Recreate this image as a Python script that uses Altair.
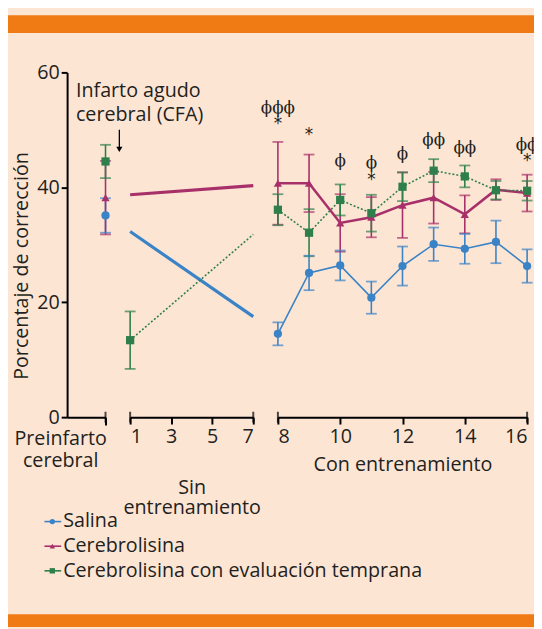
import altair as alt
import pandas as pd

# ---------------- data ----------------
series = ["Salina", "Cerebrolisina", "Cerebrolisina con evaluación temprana"]
colors = ["#2677c0", "#a3195b", "#006b37"]
bar_colors = ["#3a83c6", "#a8306a", "#2e7f4c"]
shapes = ["circle", "triangle-up", "square"]

# Preinfarto cerebral
pre_mean = [35.1, 38.2, 44.5]
pre_err = [3.0, 6.4, 2.9]

# Sin entrenamiento (weeks 1..7)
sin_weeks = [1, 7]
sin_salina = [32.3, 17.5]
sin_cereb = [38.7, 40.3]
sin_temp = [13.4, 31.8]
sin_temp_err_week = [1]
sin_temp_err = [5.0]

# Con entrenamiento (weeks 8..16)
con_weeks = [8, 9, 10, 11, 12, 13, 14, 15, 16]
con_salina = [14.5, 25.1, 26.4, 20.8, 26.3, 30.1, 29.3, 30.5, 26.3]
con_salina_err = [2.0, 3.0, 2.6, 2.8, 3.4, 2.9, 2.6, 3.7, 2.9]
con_cereb = [40.7, 40.7, 33.8, 34.8, 36.9, 38.2, 35.3, 39.6, 39.0]
con_cereb_err = [7.2, 5.0, 5.0, 3.5, 5.7, 4.5, 3.3, 1.8, 3.2]
con_temp = [36.1, 32.1, 37.8, 35.5, 40.1, 42.9, 41.9, 39.5, 39.4]
con_temp_err = [2.7, 4.1, 2.7, 3.2, 2.5, 2.0, 1.9, 1.6, 1.7]

phi_weeks = [8, 10, 11, 12, 13, 14, 16]
phi_text = ["ϕϕϕ", "ϕ", "ϕ", "ϕ", "ϕϕ", "ϕϕ", "ϕϕ"]
phi_value = [53.1, 43.8, 43.5, 45.1, 47.5, 46.1, 46.7]
star_weeks = [8, 9, 11, 16]
star_value = [50.8, 48.9, 41.1, 44.4]

# ---------------- style ----------------
FONT = "Open Sans"
TXT = "#231f20"
BG = "#fde5d4"
ORANGE = "#f07a14"
FS = 20

ysc = alt.Scale(domain=[0, 60], nice=False, zero=False)
col = alt.Color("series:N", scale=alt.Scale(domain=series, range=colors), legend=None)
barcol = alt.Color("series:N", scale=alt.Scale(domain=series, range=bar_colors), legend=None)
shp = alt.Shape("series:N", scale=alt.Scale(domain=series, range=shapes), legend=None)


def frame(weeks, vals, errs, name):
    rows = []
    for i, w in enumerate(weeks):
        e = errs[i] if errs is not None else None
        rows.append({"x": w, "series": name, "mean": vals[i],
                     "lo": None if e is None else vals[i] - e,
                     "hi": None if e is None else vals[i] + e})
    return pd.DataFrame(rows)


def Yf(field, ax):
    return alt.Y(field, scale=ysc, axis=ax)


def err_layers(df, X, ax):
    rule = alt.Chart(df).mark_rule(strokeWidth=1.6).encode(x=X, y=Yf("lo:Q", ax), y2="hi:Q", color=barcol)
    t1 = alt.Chart(df).mark_tick(orient="horizontal", size=11, thickness=1.8).encode(x=X, y=Yf("lo:Q", ax), color=barcol)
    t2 = alt.Chart(df).mark_tick(orient="horizontal", size=11, thickness=1.8).encode(x=X, y=Yf("hi:Q", ax), color=barcol)
    return [rule, t1, t2]


def points(df, X, ax):
    return alt.Chart(df).mark_point(filled=True, size=70, opacity=1).encode(
        x=X, y=Yf("mean:Q", ax), color=col, shape=shp)


def endcaps(vals, X, ax):
    d = pd.DataFrame({"x": vals, "lo": [0] * len(vals)})
    return alt.Chart(d).mark_tick(orient="vertical", size=11, thickness=2, color="black").encode(
        x=X, y=Yf("lo:Q", ax))


# ---------------- panel 1: preinfarto ----------------
pre_df = frame([1, 1, 1], pre_mean, pre_err, None)
pre_df["series"] = series

yaxis1 = alt.Axis(values=[0, 20, 40, 60], tickSize=6, labelPadding=2, domainWidth=2, tickWidth=2,
                  title="Porcentaje de corrección", titleX=-46, titleY=196, titleAngle=-90,
                  titleAlign="center", titleBaseline="middle", grid=False)
X1 = alt.X("x:Q", scale=alt.Scale(domain=[0, 1], nice=False, zero=False),
           axis=alt.Axis(values=[1], labels=False, tickSize=8, domainWidth=2, tickWidth=2,
                         title=["Preinfarto", "cerebral"], titleX=-7, titleY=12,
                         titleAlign="center", titleBaseline="top", titleLineHeight=22, grid=False))

dummy = pd.DataFrame({"a": [0]})
band_top = alt.Chart(dummy).mark_rect(color=ORANGE).encode(
    x=alt.value(-60), x2=alt.value(474), y=alt.value(-58), y2=alt.value(-40))
band_bot = alt.Chart(dummy).mark_rect(color=ORANGE).encode(
    x=alt.value(-60), x2=alt.value(474), y=alt.value(550), y2=alt.value(563))

infarto = alt.Chart(dummy).mark_text(text=["Infarto agudo", "cerebral (CFA)"], align="left",
                                     baseline="middle", lineHeight=24, fontSize=FS, font=FONT,
                                     color=TXT).encode(x=alt.datum(0.23), y=alt.datum(56.7))
arrow_line = alt.Chart(dummy).mark_rule(color="black", strokeWidth=1.3).encode(
    x=alt.datum(1.36), y=alt.datum(50.0), y2=alt.datum(46.4))
arrow_head = alt.Chart(dummy).mark_point(shape="triangle-down", filled=True, size=40, color="black", opacity=1).encode(
    x=alt.datum(1.36), y=alt.datum(46.6))

# legend (drawn below the plot, in pixels relative to the first panel)
legend_layers = []
for i, s in enumerate(series):
    ld = pd.DataFrame({"series": [s]})
    yy = 456 + 25 * i
    legend_layers.append(alt.Chart(ld).mark_rule(strokeWidth=1.6).encode(
        x=alt.value(-23), x2=alt.value(-6), y=alt.value(yy), color=col))
    legend_layers.append(alt.Chart(ld).mark_point(filled=True, size=30, opacity=1).encode(
        x=alt.value(-15), y=alt.value(yy), color=col, shape=shp))
    legend_layers.append(alt.Chart(ld).mark_text(align="left", baseline="middle", fontSize=FS,
                                                 font=FONT, color=TXT).encode(
        x=alt.value(-4), y=alt.value(yy), text="series:N"))

p1 = alt.layer(
    band_top, band_bot,
    *err_layers(pre_df, X1, yaxis1),
    points(pre_df, X1, yaxis1),
    endcaps([1], X1, yaxis1),
    infarto, arrow_line, arrow_head,
    *legend_layers,
).properties(width=39, height=350)

# ---------------- panel 2: sin entrenamiento ----------------
X2 = alt.X("x:Q", scale=alt.Scale(domain=[1, 7], nice=False, zero=False),
           axis=alt.Axis(values=[1, 3, 5, 7], tickSize=7, labelPadding=3, domainWidth=2, tickWidth=2,
                         title=["Sin", "entrenamiento"], titleY=61, titleBaseline="top",
                         titleLineHeight=21, grid=False))
s_sal = frame(sin_weeks, sin_salina, None, series[0])
s_cer = frame(sin_weeks, sin_cereb, None, series[1])
s_tem = frame(sin_weeks, sin_temp, None, series[2])
s_tem_pt = frame(sin_temp_err_week, sin_temp[:1], sin_temp_err, series[2])

YN = None
p2 = alt.layer(
    alt.Chart(s_sal).mark_line(strokeWidth=3.2).encode(x=X2, y=Yf("mean:Q", YN), color=col),
    alt.Chart(s_cer).mark_line(strokeWidth=3.2).encode(x=X2, y=Yf("mean:Q", YN), color=col),
    *err_layers(s_tem_pt, X2, YN),
    alt.Chart(s_tem).mark_line(strokeWidth=1.6, strokeDash=[2, 2]).encode(x=X2, y=Yf("mean:Q", YN), color=col),
    points(s_tem_pt, X2, YN),
    endcaps([1, 7], X2, YN),
).properties(width=125, height=350)

# ---------------- panel 3: con entrenamiento ----------------
X3 = alt.X("x:Q", scale=alt.Scale(domain=[8, 16], nice=False, zero=False),
           axis=alt.Axis(values=[8, 10, 12, 14, 16], tickSize=7, labelPadding=3, domainWidth=2, tickWidth=2,
                         title="Con entrenamiento", titleY=38, titleBaseline="top", grid=False))
c_sal = frame(con_weeks, con_salina, con_salina_err, series[0])
c_cer = frame(con_weeks, con_cereb, con_cereb_err, series[1])
c_tem = frame(con_weeks, con_temp, con_temp_err, series[2])
c_all = pd.concat([c_sal, c_cer, c_tem], ignore_index=True)

phi_df = pd.DataFrame({"x": phi_weeks, "t": phi_text, "lo": phi_value})
star_df = pd.DataFrame({"x": star_weeks, "t": ["*"] * len(star_weeks), "lo": star_value})

p3 = alt.layer(
    *err_layers(c_all, X3, YN),
    alt.Chart(c_sal).mark_line(strokeWidth=1.6).encode(x=X3, y=Yf("mean:Q", YN), color=col),
    alt.Chart(c_cer).mark_line(strokeWidth=2.6).encode(x=X3, y=Yf("mean:Q", YN), color=col),
    alt.Chart(c_tem).mark_line(strokeWidth=1.6, strokeDash=[2, 2]).encode(x=X3, y=Yf("mean:Q", YN), color=col),
    points(c_all, X3, YN),
    endcaps([8, 16], X3, YN),
    alt.Chart(phi_df).mark_text(font="DejaVu Serif", fontSize=17, color=TXT, baseline="middle", dy=-4).encode(
        x=X3, y=Yf("lo:Q", YN), text="t:N"),
    alt.Chart(star_df).mark_text(font="DejaVu Sans", fontSize=17, color=TXT, baseline="middle", dy=-1).encode(
        x=X3, y=Yf("lo:Q", YN), text="t:N"),
).properties(width=253, height=350)

# fixed-size canvas: 534 x 621 px, content beyond the right edge is cut off like in the original
chart = alt.hconcat(p1, p2, p3, spacing=25, bounds="flush").resolve_scale(
    x="independent", y="independent"
).properties(
    autosize=alt.AutoSizeParams(type="none"),
    padding={"left": 60, "top": 58, "right": 474, "bottom": 563},
    background=BG,
).configure_view(stroke=None).configure_axis(
    labelFont=FONT, titleFont=FONT, labelFontSize=FS, titleFontSize=FS,
    labelColor=TXT, titleColor=TXT, domainColor="black", tickColor="black",
    titleFontWeight="normal", grid=False
)

chart.save("out.html", embed_options={"renderer": "svg", "actions": False})
